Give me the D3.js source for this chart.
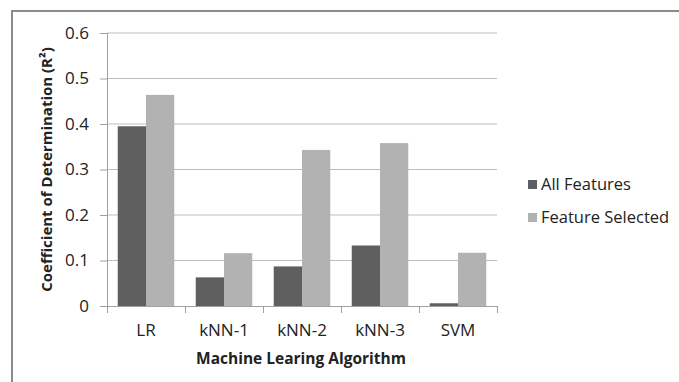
<!DOCTYPE html>
<html>
<head>
<meta charset="utf-8">
<script src="https://cdn.jsdelivr.net/npm/d3@7"></script>
<style>
  html, body { margin: 0; padding: 0; background: #fff; overflow: hidden; }
  svg { display: block; }
</style>
</head>
<body>
<div id="plotdiv"></div>
<script>
// Chart values
var algorithms = ["LR", "kNN-1", "kNN-2", "kNN-3", "SVM"];
var seriesNames = ["All Features", "Feature Selected"];
var allFeatures = [0.395, 0.063, 0.087, 0.133, 0.006];
var featureSelected = [0.464, 0.116, 0.343, 0.358, 0.117];
var yTicks = [0, 0.1, 0.2, 0.3, 0.4, 0.5, 0.6];

var colours = ["#5f5f5f", "#b2b2b2"];
var fontFamily = "'Open Sans', sans-serif";

var outerWidth = 679;
var outerHeight = 382;
var margin = { left: 107, top: 33, right: 182, bottom: 76 };
var innerWidth = outerWidth - margin.left - margin.right;
var innerHeight = outerHeight - margin.top - margin.bottom;

var vis = d3.select("#plotdiv").append("svg")
  .attr("width", outerWidth)
  .attr("height", outerHeight);

// outer frame (only top and left edges are visible in the crop)
vis.append("path")
  .attr("d", "M12," + outerHeight + "V11H" + outerWidth)
  .attr("fill", "none")
  .attr("stroke", "#8c8c8c")
  .attr("stroke-width", 2);

var g = vis.append("g")
  .attr("transform", "translate(" + margin.left + "," + margin.top + ")");

var xScale = d3.scaleBand()
  .domain(algorithms)
  .range([0, innerWidth]);
var xInner = d3.scaleBand()
  .domain(seriesNames)
  .range([0, xScale.bandwidth()])
  .paddingOuter(0.38)
  .paddingInner(0);
var yScale = d3.scaleLinear()
  .domain([0, 0.6])
  .range([innerHeight, 0]);

// gridlines
g.append("g")
  .selectAll("line").data(yTicks.slice(1)).enter().append("line")
  .attr("x1", 0).attr("x2", innerWidth)
  .attr("y1", function(d) { return yScale(d); })
  .attr("y2", function(d) { return yScale(d); })
  .attr("stroke", "#bdbdbd");

// y axis
var axisY = d3.axisLeft(yScale)
  .tickValues(yTicks)
  .tickFormat(function(d) { return d === 0 ? "0" : d3.format(".1f")(d); })
  .tickSize(7)
  .tickPadding(11);
var gAxisY = g.append("g").call(axisY);
gAxisY.select(".domain").attr("stroke", "#a0a0a0").attr("d", "M0.5,0V" + innerHeight);
gAxisY.selectAll(".tick line").attr("stroke", "#a0a0a0");
gAxisY.selectAll(".tick text")
  .style("font-family", fontFamily)
  .style("font-size", "17px")
  .attr("fill", "#222");

// bars
var rows = algorithms.map(function(a, i) {
  return { name: a, values: [allFeatures[i], featureSelected[i]] };
});
var groups = g.selectAll(".grp").data(rows).enter().append("g")
  .attr("class", "grp")
  .attr("transform", function(d) { return "translate(" + xScale(d.name) + ",0)"; });
groups.selectAll("rect").data(function(d) { return d.values; }).enter().append("rect")
  .attr("x", function(d, i) { return xInner(seriesNames[i]); })
  .attr("width", xInner.bandwidth())
  .attr("y", function(d) { return yScale(d); })
  .attr("height", function(d) { return innerHeight - yScale(d); })
  .attr("fill", function(d, i) { return colours[i]; });

// x axis
var axisX = d3.axisBottom(xScale)
  .tickSize(0)
  .tickPadding(18);
var gAxisX = g.append("g")
  .attr("transform", "translate(0," + innerHeight + ")")
  .call(axisX);
gAxisX.select(".domain").attr("stroke", "#a0a0a0").attr("d", "M0,0.5H" + innerWidth);
gAxisX.selectAll(".tick text")
  .style("font-family", fontFamily)
  .style("font-size", "17px")
  .attr("fill", "#222");
// category separators
gAxisX.append("g").selectAll("line")
  .data(d3.range(algorithms.length + 1)).enter().append("line")
  .attr("x1", function(d) { return d * xScale.step() + 0.5; })
  .attr("x2", function(d) { return d * xScale.step() + 0.5; })
  .attr("y1", 0).attr("y2", 7)
  .attr("stroke", "#a0a0a0");

// axis titles
g.append("text")
  .style("font-family", fontFamily)
  .style("font-size", "15.5px")
  .attr("font-weight", "bold")
  .attr("fill", "#222")
  .attr("text-anchor", "middle")
  .attr("transform", "translate(" + (innerWidth / 2 - 1) + "," + (innerHeight + 58) + ")")
  .text("Machine Learing Algorithm");
g.append("text")
  .style("font-family", fontFamily)
  .style("font-size", "15px")
  .attr("font-weight", "bold")
  .attr("fill", "#222")
  .attr("text-anchor", "middle")
  .attr("transform", "translate(-55," + (innerHeight / 2) + ") rotate(-90)")
  .text("Coefficient of Determination (R²)");

// legend
var gLegend = vis.append("g")
  .attr("transform", "translate(528,184)");
var items = gLegend.selectAll("g").data(seriesNames).enter().append("g")
  .attr("transform", function(d, i) { return "translate(0," + i * 33 + ")"; });
items.append("rect")
  .attr("x", 0).attr("y", -4)
  .attr("width", 9).attr("height", 9)
  .attr("fill", function(d, i) { return colours[i]; });
items.append("text")
  .attr("x", 13)
  .attr("dy", "0.35em")
  .style("font-family", fontFamily)
  .style("font-size", "16.5px")
  .attr("fill", "#222")
  .text(function(d) { return d; });
</script>
</body>
</html>
